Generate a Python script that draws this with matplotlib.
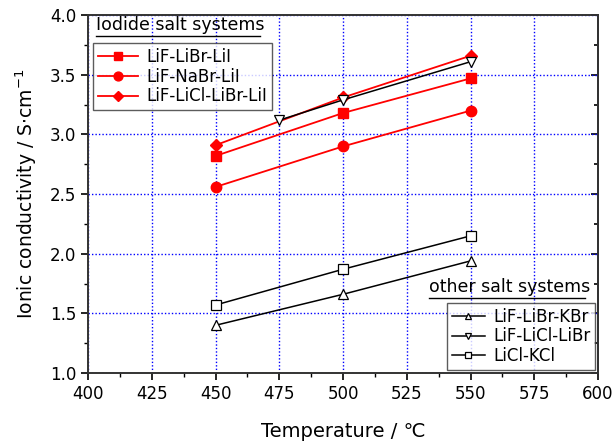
import matplotlib
matplotlib.use("Agg")
import matplotlib.pyplot as plt
from matplotlib.ticker import MultipleLocator, FormatStrFormatter, NullFormatter

plt.rcParams['font.family'] = ['DejaVu Sans']

temps_3 = [450, 500, 550]
temps_lcb = [475, 500, 550]

lif_libr_lii = [2.82, 3.18, 3.47]
lif_nabr_lii = [2.56, 2.90, 3.20]
lif_licl_libr_lii = [2.91, 3.31, 3.66]

lif_libr_kbr = [1.40, 1.66, 1.94]
lif_licl_libr = [3.12, 3.29, 3.61]
licl_kcl = [1.57, 1.87, 2.15]

iodide_labels = ['LiF-LiBr-LiI', 'LiF-NaBr-LiI', 'LiF-LiCl-LiBr-LiI']
other_labels = ['LiF-LiBr-KBr', 'LiF-LiCl-LiBr', 'LiCl-KCl']

fig = plt.figure(figsize=(6.13, 4.47), dpi=100)
ax = fig.add_axes([0.1436, 0.1655, 0.832, 0.8005])

red = '#ff0000'
h1, = ax.plot(temps_3, lif_libr_lii, color=red, marker='s', ms=6.5, lw=1.3, label=iodide_labels[0], zorder=3)
h2, = ax.plot(temps_3, lif_nabr_lii, color=red, marker='o', ms=7.5, lw=1.3, label=iodide_labels[1], zorder=3)
h3, = ax.plot(temps_3, lif_licl_libr_lii, color=red, marker='D', ms=6.5, lw=1.3, label=iodide_labels[2], zorder=3)

g1, = ax.plot(temps_3, lif_libr_kbr, color='black', marker='^', ms=7, mfc='white', mec='black', mew=0.9, lw=1.1, label=other_labels[0], zorder=4)
g2, = ax.plot(temps_lcb, lif_licl_libr, color='black', marker='v', ms=7, mfc='white', mec='black', mew=0.9, lw=1.1, label=other_labels[1], zorder=4)
g3, = ax.plot(temps_3, licl_kcl, color='black', marker='s', ms=6.5, mfc='white', mec='black', mew=0.9, lw=1.1, label=other_labels[2], zorder=4)

ax.set_xlim(400, 600)
ax.set_ylim(1.0, 4.0)
ax.xaxis.set_major_locator(MultipleLocator(25))
ax.xaxis.set_minor_locator(MultipleLocator(12.5))
ax.yaxis.set_major_locator(MultipleLocator(0.5))
ax.yaxis.set_minor_locator(MultipleLocator(0.25))
ax.yaxis.set_major_formatter(FormatStrFormatter('%.1f'))

ax.grid(True, which='major', color='#0000ff', linestyle=(0, (1, 1.5)), lw=1.0, zorder=1)
ax.tick_params(which='both', direction='out', right=False, top=False, labelsize=12)
ax.tick_params(which='major', length=5, width=1.2)
ax.tick_params(which='minor', length=3, width=1.0)
for sp in ax.spines.values():
    sp.set_linewidth(1.4)
    sp.set_color('#333333')

sec = ax.secondary_yaxis('right')
sec.yaxis.set_major_locator(MultipleLocator(0.5))
sec.yaxis.set_minor_locator(MultipleLocator(0.25))
sec.yaxis.set_major_formatter(NullFormatter())
sec.tick_params(which='both', direction='in', width=1.2)
sec.tick_params(which='major', length=5)
sec.tick_params(which='minor', length=3)
sec.spines['right'].set_linewidth(1.4)
sec.spines['right'].set_color('#333333')

ax.set_xlabel('Temperature / ℃', fontsize=14, labelpad=14)
ax.set_ylabel('Ionic conductivity / S$\\cdot$cm$^{-1}$', fontsize=13.5, labelpad=8)

leg1 = ax.legend(handles=[h1, h2, h3], loc='upper left', bbox_to_anchor=(0.01, 0.922),
                 fontsize=12, frameon=True, fancybox=False, edgecolor='#333333',
                 handlelength=2.4, borderpad=0.3, labelspacing=0.1, handletextpad=0.5,
                 borderaxespad=0.0, markerscale=0.85)
leg1.get_frame().set_linewidth(1.0)
ax.add_artist(leg1)

leg2 = ax.legend(handles=[g1, g2, g3], loc='lower right', bbox_to_anchor=(0.995, 0.008),
                 fontsize=12, frameon=True, fancybox=False, edgecolor='#333333',
                 handlelength=2.0, borderpad=0.3, labelspacing=0.1, handletextpad=0.5,
                 borderaxespad=0.0, markerscale=0.6)
leg2.get_frame().set_linewidth(1.0)

ax.text(0.016, 0.948, 'Iodide salt systems', transform=ax.transAxes, fontsize=12.5,
        ha='left', va='bottom')
ax.plot([0.016, 0.338], [0.942, 0.942], transform=ax.transAxes, color='black', lw=1.0, clip_on=False)
ax.text(0.668, 0.216, 'other salt systems', transform=ax.transAxes, fontsize=12.5,
        ha='left', va='bottom')
ax.plot([0.668, 0.975], [0.209, 0.209], transform=ax.transAxes, color='black', lw=1.0, clip_on=False)

fig.savefig('out.png', dpi=100)
